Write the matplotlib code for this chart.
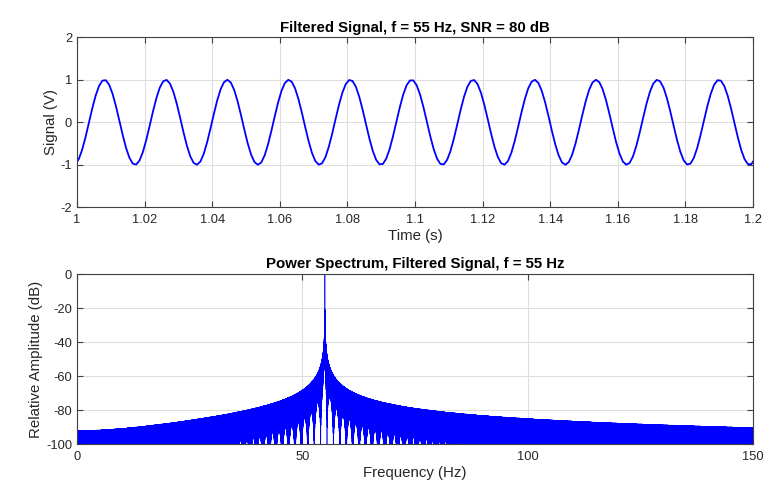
import numpy as np
import matplotlib
matplotlib.use("Agg")
import matplotlib.pyplot as plt

# signal parameters read from the titles / trace
signal_freq_hz = 55.0
snr_db = 80
sample_rate_hz = 1000.0
duration_s = 160.0
record_start_s = 0.0005       # first sample time
fft_length = 228471           # padded fft length, picked to match the leakage pattern
phase_lag_cycles = 0.195      # filter delay seen in the trace (peaks at ~1.008 s)
amplitude_v = 1.0

time_window = [1.0, 1.2]
time_ticks = [1.0, 1.02, 1.04, 1.06, 1.08, 1.1, 1.12, 1.14, 1.16, 1.18, 1.2]
time_labels = ["1", "1.02", "1.04", "1.06", "1.08", "1.1", "1.12", "1.14", "1.16", "1.18", "1.2"]
signal_ticks = [-2, -1, 0, 1, 2]
freq_window = [0, 150]
freq_ticks = [0, 50, 100, 150]
db_window = [-100, 0]
db_ticks = [-100, -80, -60, -40, -20, 0]

plt.rcParams["font.family"] = ["Liberation Sans", "DejaVu Sans"]
plt.rcParams["path.simplify"] = False
plt.rcParams["axes.unicode_minus"] = False

# time signal
n_samples = int(round(duration_s * sample_rate_hz))
t = record_start_s + np.arange(n_samples) / sample_rate_hz
sig = amplitude_v * np.sin(2 * np.pi * (signal_freq_hz * t - phase_lag_cycles))

# spectrum of the zero padded signal
spec = np.abs(np.fft.rfft(sig, fft_length))
freqs = np.fft.rfftfreq(fft_length, 1.0 / sample_rate_hz)
with np.errstate(divide="ignore"):
    rel_db = 20 * np.log10(spec / spec.max())
rel_db = np.maximum(rel_db, -400)
keep = freqs <= freq_window[1] + 1
freqs, rel_db = freqs[keep], rel_db[keep]

tmask = (t >= time_window[0] - 0.001) & (t <= time_window[1] + 0.001)

axis_color = "#404040"
text_color = "#262626"
grid_color = "#dedede"

fig = plt.figure(figsize=(7.68, 4.99), dpi=100)
ax1 = fig.add_axes([0.1003, 0.5846, 0.8802, 0.3407])
ax2 = fig.add_axes([0.1003, 0.1102, 0.8802, 0.3407])

def style(ax):
    ax.grid(True, color=grid_color, linewidth=0.8)
    ax.set_axisbelow(True)
    for s in ax.spines.values():
        s.set_color(axis_color)
        s.set_linewidth(0.8)
    ax.tick_params(direction="in", top=True, right=True, length=4,
                   color=axis_color, labelcolor=text_color, labelsize=9.3, width=0.8)
    ax.tick_params(axis="x", pad=5)

ax1.plot(t[tmask], sig[tmask], color="#0000ff", linewidth=1.3)
ax1.set_xlim(time_window)
ax1.set_ylim(-2, 2)
ax1.set_xticks(time_ticks)
ax1.set_xticklabels(time_labels)
ax1.set_yticks(signal_ticks)
ax1.set_xlabel("Time (s)", fontsize=10.8, color=text_color, labelpad=2)
ax1.set_ylabel("Signal (V)", fontsize=10.8, color=text_color, labelpad=2)
ax1.set_title("Filtered Signal, f = %d Hz, SNR = %d dB" % (signal_freq_hz, snr_db),
              fontsize=10.8, fontweight="bold", pad=4)
style(ax1)

ax2.plot(freqs, rel_db, color="#0000ff", linewidth=0.45)
ax2.set_xlim(freq_window)
ax2.set_ylim(db_window)
ax2.set_xticks(freq_ticks)
ax2.set_yticks(db_ticks)
ax2.set_xlabel("Frequency (Hz)", fontsize=10.8, color=text_color, labelpad=2)
ax2.set_ylabel("Relative Amplitude (dB)", fontsize=10.8, color=text_color, labelpad=2)
ax2.set_title("Power Spectrum, Filtered Signal, f = %d Hz" % signal_freq_hz,
              fontsize=10.8, fontweight="bold", pad=4)
style(ax2)

fig.savefig("out.png", dpi=100)
